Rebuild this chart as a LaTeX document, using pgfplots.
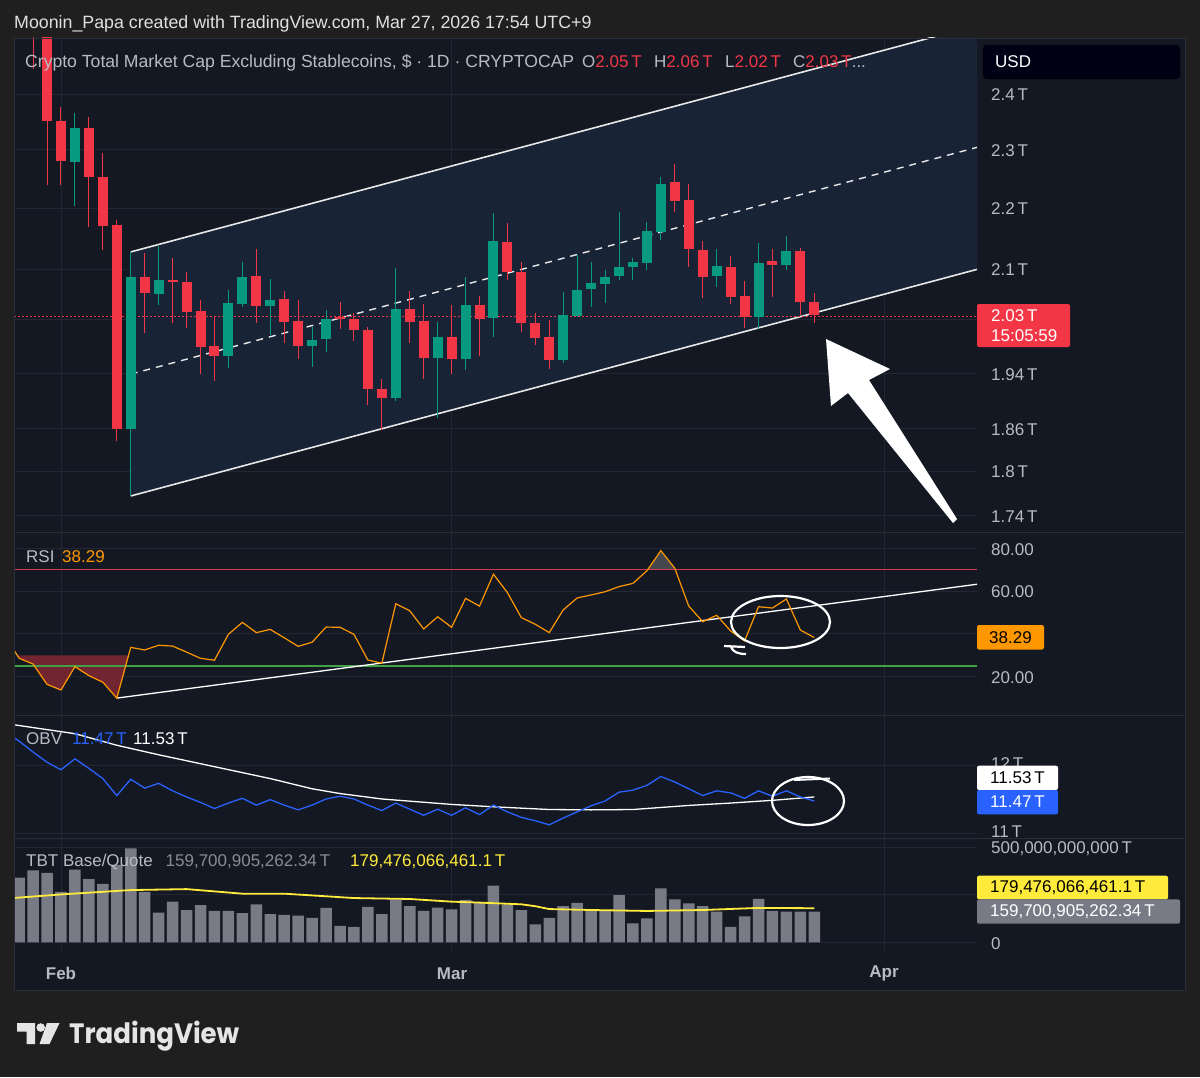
\documentclass[border=0pt]{standalone}
\usepackage{pgfplots}
\pgfplotsset{compat=1.18}
\usepackage{fontspec}
\setmainfont{Liberation Sans}
\newfontfamily\logofont{Poppins}

\definecolor{outerbg}{HTML}{1F1F1F}
\definecolor{panelbg}{HTML}{141823}
\definecolor{gridc}{HTML}{232734}
\definecolor{sepc}{HTML}{2A2E39}
\definecolor{cred}{HTML}{F23645}
\definecolor{cgreen}{HTML}{089981}
\definecolor{txt}{HTML}{B8BBC4}
\definecolor{chanfill}{HTML}{192336}
\definecolor{rsic}{HTML}{FF9800}
\definecolor{obvc}{HTML}{2962FF}
\definecolor{volc}{HTML}{787B86}
\definecolor{volma}{HTML}{FFEB3B}
\definecolor{osline}{HTML}{43A047}
\definecolor{linew}{HTML}{E8E8E8}

\newcommand\fs{\fontsize{17}{20}\selectfont}
\newcommand{\cR}[5]{%
  \addplot[cred, line width=1pt, forget plot] coordinates {(#1,#4) (#1,#3)};
  \addplot[cred, line width=10pt, forget plot] coordinates {(#1,#2) (#1,#5)};}
\newcommand{\cG}[5]{%
  \addplot[cgreen, line width=1pt, forget plot] coordinates {(#1,#4) (#1,#3)};
  \addplot[cgreen, line width=10pt, forget plot] coordinates {(#1,#2) (#1,#5)};}

\pgfplotsset{tvaxis/.style={
  scale only axis, width=963pt, anchor=north west,
  xmin=-3.369, xmax=65.663,
  axis line style={draw=none},
  major tick length=0pt,
  xtick={0,28,59}, xticklabels={},
  xmajorgrids, ymajorgrids,
  grid style={gridc, line width=0.9pt},
  yticklabel pos=right,
  yticklabel style={anchor=west, inner sep=0pt, xshift=14pt, yshift=-1pt, text=txt, font=\fs},
  clip=true,
}}

\begin{document}
\begin{tikzpicture}
\begin{scope}[x=1pt,y=-1pt]
\fill[outerbg] (0,0) rectangle (1200,1077);
\fill[panelbg] (14,38) rectangle (1185,990);
\end{scope}

% ---------------- main price pane ----------------
\begin{axis}[tvaxis, at={(14pt,-38pt)}, height=494pt, ymode=log,
  ymin=1.7183, ymax=2.5047,
  ytick={1.74,1.8,1.86,1.94,2.02,2.1,2.2,2.3,2.4},
  yticklabels={1.74\,T,1.8\,T,1.86\,T,1.94\,T,{},2.1\,T,2.2\,T,2.3\,T,2.4\,T}]
\addplot[fill=chanfill, draw=none, forget plot] coordinates {(5,2.1276) (65.663,2.529) (65.663,2.0994) (5,1.7662)} -- cycle;
\addplot[linew, line width=1.6pt] coordinates {(5,2.1276) (65.663,2.529)};
\addplot[linew, line width=1.6pt] coordinates {(5,1.7662) (65.663,2.0994)};
\addplot[linew, line width=1.4pt, dash pattern=on 7pt off 6pt] coordinates {(5,1.9384) (65.663,2.3043)};
\addplot[cred, line width=0.9pt, dash pattern=on 1.5pt off 2.5pt] coordinates {(-3.369,2.026) (65.663,2.026)};
\cR{-2}{2.65}{2.70}{2.447}{2.52}
\cR{-1}{2.65}{2.70}{2.239}{2.351}
\cR{0}{2.351}{2.377}{2.239}{2.280}
\cG{1}{2.279}{2.365}{2.204}{2.338}
\cR{2}{2.338}{2.358}{2.169}{2.253}
\cR{3}{2.253}{2.294}{2.130}{2.170}
\cR{4}{2.171}{2.180}{1.842}{1.859}
\cG{5}{1.859}{2.128}{1.766}{2.087}
\cR{6}{2.087}{2.126}{2.000}{2.062}
\cG{7}{2.061}{2.137}{2.043}{2.082}
\cR{8}{2.082}{2.118}{2.016}{2.079}
\cR{9}{2.079}{2.095}{2.007}{2.032}
\cR{10}{2.034}{2.051}{1.938}{1.979}
\cR{11}{1.980}{2.026}{1.928}{1.966}
\cG{12}{1.966}{2.066}{1.948}{2.046}
\cG{13}{2.044}{2.111}{2.040}{2.088}
\cR{14}{2.089}{2.132}{2.016}{2.041}
\cG{15}{2.041}{2.084}{1.997}{2.051}
\cR{16}{2.052}{2.065}{1.985}{2.017}
\cR{17}{2.018}{2.051}{1.961}{1.981}
\cG{18}{1.981}{2.009}{1.949}{1.990}
\cG{19}{1.991}{2.035}{1.971}{2.022}
\cR{20}{2.024}{2.048}{2.006}{2.021}
\cR{21}{2.022}{2.030}{1.989}{2.004}
\cR{22}{2.004}{2.009}{1.893}{1.917}
\cR{23}{1.917}{1.931}{1.858}{1.904}
\cG{24}{1.904}{2.102}{1.899}{2.037}
\cR{25}{2.037}{2.065}{1.985}{2.017}
\cR{26}{2.018}{2.045}{1.931}{1.962}
\cG{27}{1.962}{2.017}{1.874}{1.994}
\cR{28}{1.994}{2.043}{1.938}{1.961}
\cG{29}{1.961}{2.087}{1.945}{2.043}
\cR{30}{2.043}{2.057}{1.965}{2.022}
\cG{31}{2.023}{2.191}{1.994}{2.146}
\cR{32}{2.144}{2.175}{2.083}{2.095}
\cR{33}{2.095}{2.112}{2.002}{2.016}
\cR{34}{2.016}{2.030}{1.982}{1.993}
\cR{35}{1.994}{2.020}{1.946}{1.960}
\cG{36}{1.960}{2.063}{1.955}{2.027}
\cG{37}{2.026}{2.122}{2.024}{2.067}
\cG{38}{2.069}{2.111}{2.040}{2.077}
\cG{39}{2.076}{2.099}{2.047}{2.087}
\cG{40}{2.089}{2.193}{2.082}{2.103}
\cG{41}{2.103}{2.118}{2.082}{2.111}
\cG{42}{2.109}{2.177}{2.098}{2.162}
\cG{43}{2.161}{2.252}{2.147}{2.241}
\cR{44}{2.244}{2.276}{2.194}{2.212}
\cR{45}{2.213}{2.241}{2.104}{2.132}
\cR{46}{2.130}{2.146}{2.054}{2.087}
\cG{47}{2.089}{2.132}{2.072}{2.105}
\cR{48}{2.103}{2.121}{2.045}{2.055}
\cR{49}{2.057}{2.081}{2.008}{2.025}
\cG{50}{2.025}{2.142}{2.006}{2.109}
\cR{51}{2.113}{2.132}{2.056}{2.106}
\cG{52}{2.106}{2.154}{2.099}{2.129}
\cR{53}{2.129}{2.134}{2.027}{2.048}
\cR{54}{2.048}{2.062}{2.015}{2.027}
\end{axis}

% ---------------- RSI pane ----------------
\begin{axis}[tvaxis, at={(14pt,-533pt)}, height=182pt,
  ymin=2.10, ymax=87.15,
  ytick={20,40,60,80}, yticklabels={20.00,{},60.00,80.00}]
\addplot[fill=cred!42!panelbg, draw=none, forget plot] coordinates {(-3.135,30) (-3,28.6) (-2,25.9) (-1,16.4) (0,13.8) (1,24.7) (2,20.5) (3,17.4) (4,10.0) (4.844,30)} -- cycle;
\addplot[fill=gray!45!panelbg, draw=none, forget plot] coordinates {(42.05,70) (43,78.9) (44,70.7) (44.04,70)} -- cycle;
\addplot[draw={rgb,255:red,214;green,56;blue,76}, line width=1.2pt] coordinates {(-3.369,70) (65.663,70)};
\addplot[draw=osline, line width=1.4pt] coordinates {(-3.369,25) (65.663,25)};
\addplot[white, line width=1.3pt] coordinates {(4,10.0) (65.663,63.2)};
\addplot[rsic, line width=1.2pt] coordinates {
(-4,39) (-3,28.6) (-2,25.9) (-1,16.4) (0,13.8) (1,24.7) (2,20.5) (3,17.4) (4,10.0)
(5,33.7) (6,32.5) (7,34.7) (8,34.3) (9,31.5) (10,28.6) (11,27.7) (12,39.8) (13,45.4)
(14,40.6) (15,42.1) (16,38.2) (17,34.2) (18,36.1) (19,43.2) (20,43.1) (21,39.8) (22,27.8)
(23,26.3) (24,54.1) (25,50.8) (26,42.3) (27,48.0) (28,43.1) (29,56.6) (30,53.0) (31,67.9)
(32,59.3) (33,47.6) (34,44.5) (35,40.6) (36,51.2) (37,56.8) (38,58.2) (39,59.7) (40,62.1)
(41,63.6) (42,69.5) (43,78.9) (44,70.7) (45,53.0) (46,45.7) (47,48.7) (48,41.4) (49,36.7)
(50,52.7) (51,52.1) (52,56.3) (53,41.8) (54,38.29)};
\end{axis}

% ---------------- OBV pane ----------------
\begin{axis}[tvaxis, at={(14pt,-716pt)}, height=122pt,
  ymin=10.926, ymax=12.72,
  ytick={11,12}, yticklabels={}]
\addplot[white, line width=1.3pt] coordinates {
(-4,12.61) (1,12.46) (4,12.29) (7,12.15) (11,11.975) (15,11.80) (18,11.65) (20,11.58)
(23,11.50) (28,11.42) (31,11.385) (35,11.345) (38,11.34) (41,11.345) (43,11.375)
(45,11.405) (48,11.44) (51,11.48) (54,11.53)};
\addplot[obvc, line width=1.3pt] coordinates {
(-4,12.49) (-3,12.35) (-2,12.19) (-1,12.04) (0,11.93) (1,12.09) (2,11.95) (3,11.80)
(4,11.55) (5,11.79) (6,11.66) (7,11.73) (8,11.62) (9,11.53) (10,11.45) (11,11.36)
(12,11.44) (13,11.51) (14,11.41) (15,11.49) (16,11.41) (17,11.34) (18,11.41) (19,11.50)
(20,11.54) (21,11.50) (22,11.41) (23,11.33) (24,11.44) (25,11.35) (26,11.26) (27,11.35)
(28,11.26) (29,11.37) (30,11.27) (31,11.41) (32,11.31) (33,11.23) (34,11.18) (35,11.12)
(36,11.22) (37,11.31) (38,11.40) (39,11.47) (40,11.60) (41,11.63) (42,11.70) (43,11.83)
(44,11.75) (45,11.65) (46,11.55) (47,11.62) (48,11.59) (49,11.51) (50,11.62) (51,11.54)
(52,11.62) (53,11.53) (54,11.47)};
\end{axis}

% ---------------- volume pane ----------------
\begin{axis}[tvaxis, at={(14pt,-839pt)}, height=112pt,
  ymin=-45.8, ymax=543.7,
  ytick={0,250,500}, yticklabels={0,{},{500,000,000,000\,T}}]
\addplot[ybar, bar width=11.5pt, bar shift=0pt, fill=volc, draw=none] coordinates {
(-3,340) (-2,379) (-1,366) (0,266) (1,382) (2,332) (3,307) (4,407) (5,495) (6,266)
(7,156) (8,214) (9,170) (10,196) (11,166) (12,166) (13,153) (14,200) (15,149) (16,145)
(17,140) (18,129) (19,181) (20,87) (21,81) (22,186) (23,149) (24,226) (25,191) (26,165)
(27,182) (28,174) (29,223) (30,211) (31,298) (32,200) (33,170) (34,95) (35,128) (36,191)
(37,208) (38,168) (39,168) (40,249) (41,100) (42,126) (43,284) (44,226) (45,205) (46,191)
(47,161) (48,81) (49,137) (50,228) (51,166) (52,161) (53,161) (54,161)};
\addplot[volma, line width=1.8pt] coordinates {
(-4,230) (0,252) (5,275) (9,280) (13,256) (16,256) (21,233) (25,228) (28,214) (30,209)
(33,200) (34,190) (35,175) (38,170) (42,165) (46,170) (50,181) (54,179.5)};
\end{axis}

\begin{scope}[x=1pt,y=-1pt]
% separators
\draw[sepc, line width=1.5pt] (14,532.5) -- (1185,532.5);
\draw[sepc, line width=1.5pt] (14,715.5) -- (1185,715.5);
\draw[sepc, line width=1.5pt] (14,838.5) -- (1185,838.5);
\draw[sepc, line width=1pt] (14,38) rectangle (1185,990);

% header
\node[anchor=west, inner sep=0pt, text=white!88!black, font=\fontsize{17.8}{20}\selectfont] at (14,23.5) {Moonin\_Papa created with TradingView.com, Mar 27, 2026 17:54 UTC+9};
% legend
\node[anchor=west, inner sep=0pt, text=txt, font=\fontsize{17.6}{20}\selectfont] at (25,62.5) {Crypto Total Market Cap Excluding Stablecoins, \$ · 1D · CRYPTOCAP};
\node[anchor=west, inner sep=0pt, text=txt, font=\fs] at (582,61.5) {O\textcolor{cred}{2.05\,T}};
\node[anchor=west, inner sep=0pt, text=txt, font=\fs] at (654,61.5) {H\textcolor{cred}{2.06\,T}};
\node[anchor=west, inner sep=0pt, text=txt, font=\fs] at (725,61.5) {L\textcolor{cred}{2.02\,T}};
\node[anchor=west, inner sep=0pt, text=txt, font=\fs] at (793,61.5) {C\textcolor{cred}{2.03\,T}\textcolor{txt}{...}};

% USD box
\filldraw[fill=black!92!blue, draw=sepc!150, rounded corners=4pt] (983,45) rectangle (1180,79);
\node[anchor=west, inner sep=0pt, text=white, font=\fs] at (995,62) {USD};

% price label
\fill[cred, rounded corners=2pt] (977,304) rectangle (1070,347);
\node[anchor=west, inner sep=0pt, text=white, font=\fs] at (991,315.5) {2.03\,T};
\node[anchor=west, inner sep=0pt, text=white, font=\fs] at (991,335.5) {15:05:59};

% arrow
\fill[white] (826,339) -- (890,369) -- (869,380) -- (957,519) -- (953,523) -- (848,393) -- (831,406) -- cycle;

% RSI
\node[anchor=west, inner sep=0pt, text=txt, font=\fs] at (26,556.5) {RSI};
\node[anchor=west, inner sep=0pt, text=rsic, font=\fs] at (62,556.5) {38.29};
\fill[rsic, rounded corners=2pt] (977,625) rectangle (1044,649.5);
\node[anchor=west, inner sep=0pt, text=black, font=\fs] at (989,637.5) {38.29};
\draw[white, line width=2.2pt] (780.5,622) ellipse [x radius=49.5pt, y radius=26pt];
\draw[white, line width=2.2pt] (745,647) -- (724,646);
\draw[white, line width=2.2pt] (731,647) .. controls (733,652) and (738,654) .. (746,654);

% OBV
\node[anchor=west, inner sep=0pt, text=txt, font=\fs] at (26,739) {OBV};
\node[anchor=west, inner sep=0pt, text=obvc, font=\fs] at (72,739) {11.47\,T};
\node[anchor=west, inner sep=0pt, text=white, font=\fs] at (133,739) {11.53\,T};
\begin{scope}
\clip (977,716) rectangle (1185,765.7);
\node[anchor=west, inner sep=0pt, text=txt, font=\fs] at (991,764) {12\,T};
\end{scope}
\begin{scope}
\clip (977,716) rectangle (1185,838);
\node[anchor=west, inner sep=0pt, text=txt, font=\fs] at (991,832) {11\,T};
\end{scope}
\fill[white, rounded corners=2pt] (977,765.7) rectangle (1058,790);
\node[anchor=west, inner sep=0pt, text=black, font=\fs] at (990,778) {11.53\,T};
\fill[obvc, rounded corners=2pt] (977,790) rectangle (1058,814.3);
\node[anchor=west, inner sep=0pt, text=white, font=\fs] at (990,802) {11.47\,T};
\draw[white, line width=2.2pt] (808,801) ellipse [x radius=36pt, y radius=24pt];
\draw[white, line width=2pt] (794,780) -- (830,778.5);

% volume
\node[anchor=west, inner sep=0pt, text=txt, font=\fs] at (26,861.5) {TBT Base/Quote};
\node[anchor=west, inner sep=0pt, text=txt!75!black, font=\fs] at (165.5,861.5) {159,700,905,262.34\,T};
\node[anchor=west, inner sep=0pt, text=volma, font=\fs] at (350,861.5) {179,476,066,461.1\,T};
\fill[volma, rounded corners=2pt] (977,875.7) rectangle (1168,899.3);
\node[anchor=west, inner sep=0pt, text=black, font=\fs] at (990,887.5) {179,476,066,461.1\,T};
\fill[volc, rounded corners=2pt] (977,899.3) rectangle (1180,923.7);
\node[anchor=west, inner sep=0pt, text=white, font=\fs] at (990,911.5) {159,700,905,262.34\,T};

% time axis
\node[inner sep=0pt, text=txt, font=\fs\bfseries] at (61,973.5) {Feb};
\node[inner sep=0pt, text=txt, font=\fs\bfseries] at (452,973.5) {Mar};
\node[inner sep=0pt, text=txt, font=\fs\bfseries] at (884,973.5) {Apr};

% footer logo
\fill[white!90!black] (17,1023) -- (35,1023) -- (35,1044) -- (26.5,1044) -- (26.5,1031.5) -- (17,1031.5) -- cycle;
\fill[white!90!black] (40.7,1027.5) circle (4.3pt);
\fill[white!90!black] (47,1023) -- (59.5,1023) -- (49.5,1044) -- (39.5,1044) -- cycle;
\node[anchor=west, inner sep=0pt, text=white!90!black, font=\logofont\fontsize{28}{30}\selectfont\bfseries] at (69,1036) {\scalebox{0.93}[1]{TradingView}};
\end{scope}

\pgfresetboundingbox
\path[use as bounding box] (0pt,0pt) rectangle (1200pt,-1077pt);
\end{tikzpicture}
\end{document}
